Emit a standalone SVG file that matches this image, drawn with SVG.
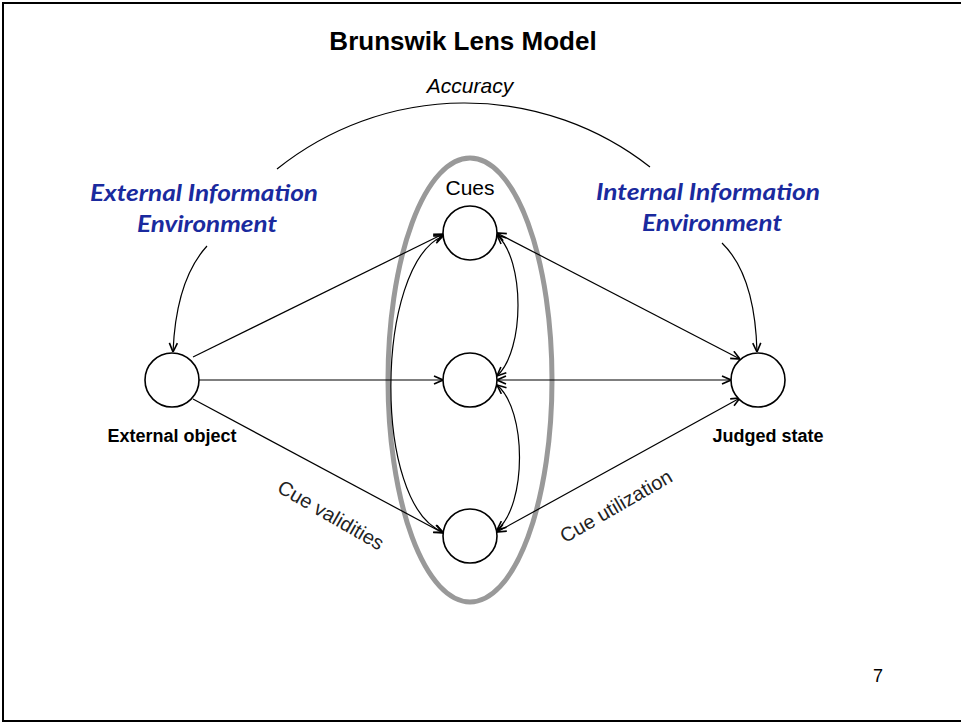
<svg xmlns="http://www.w3.org/2000/svg" width="961" height="723" viewBox="0 0 961 723">
<defs>
<style>
.node{fill:#fff;stroke:#000;stroke-width:1.6}
.con{fill:none;stroke:#000;stroke-width:1.2}
.lbl{font-family:"Liberation Sans",Arial,sans-serif;fill:#000}
.bold{font-weight:bold;font-size:18px}
.env{font-family:Lato,"Open Sans",sans-serif;font-weight:bold;font-style:italic;font-size:22px;fill:#1a2a9e}
.thin{font-family:"Liberation Sans",Arial,sans-serif;font-size:20px;fill:#222}
</style>
<marker id="arr" viewBox="0 0 10 10" refX="10" refY="5" markerWidth="10" markerHeight="10" markerUnits="userSpaceOnUse" orient="auto-start-reverse">
<path d="M1,1 L10,5 L1,9" fill="none" stroke="#000" stroke-width="1.6"/>
</marker>
</defs>
<rect x="0" y="0" width="961" height="723" fill="#fff"/>
<rect x="3" y="3" width="1000" height="718" fill="none" stroke="#000" stroke-width="2"/>

<text class="lbl" x="463" y="50" text-anchor="middle" font-size="26" font-weight="bold">Brunswik Lens Model</text>
<text class="lbl" x="470" y="93" text-anchor="middle" font-size="21" font-style="italic">Accuracy</text>

<g id="lens">
<ellipse cx="470" cy="380" rx="82" ry="222" fill="none" stroke="#999" stroke-width="5"/>
</g>

<g id="connectors">
<path class="con" d="M277,169 A300,300 0 0 1 650,167"/>
<path class="con" d="M207,246 Q176,280 173,352" marker-end="url(#arr)"/>
<path class="con" d="M722,243 Q755,275 757,352" marker-end="url(#arr)"/>
<path class="con" d="M193,357 L443,234" marker-end="url(#arr)"/>
<path class="con" d="M199,380 L443,380" marker-end="url(#arr)"/>
<path class="con" d="M193,399 L443,533" marker-end="url(#arr)"/>
<path class="con" d="M497,233 L740,359" marker-start="url(#arr)" marker-end="url(#arr)"/>
<path class="con" d="M497,380 L731,380" marker-start="url(#arr)" marker-end="url(#arr)"/>
<path class="con" d="M497,532 L740,398" marker-start="url(#arr)" marker-end="url(#arr)"/>
<path class="con" d="M443,236 C375,265 372,505 443,532" marker-start="url(#arr)" marker-end="url(#arr)"/>
<path class="con" d="M497,235 C525,260 525,350 497,376" marker-start="url(#arr)" marker-end="url(#arr)"/>
<path class="con" d="M497,385 C527,410 527,505 497,530" marker-start="url(#arr)" marker-end="url(#arr)"/>
</g>

<g id="external-object">
<circle class="node" cx="172" cy="380" r="27"/>
<text class="lbl bold" x="172" y="442" text-anchor="middle">External object</text>
</g>
<g id="cue-1">
<text class="lbl" x="470" y="195" text-anchor="middle" font-size="21">Cues</text>
<circle class="node" cx="470" cy="233" r="27"/>
</g>
<g id="cue-2">
<circle class="node" cx="470" cy="380" r="27"/>
</g>
<g id="cue-3">
<circle class="node" cx="470" cy="536" r="27"/>
</g>
<g id="judged-state">
<circle class="node" cx="758" cy="380" r="27"/>
<text class="lbl bold" x="768" y="442" text-anchor="middle">Judged state</text>
</g>

<g id="external-env">
<text class="env" x="204" y="201" text-anchor="middle" textLength="228" lengthAdjust="spacingAndGlyphs">External Information</text>
<text class="env" x="207" y="232" text-anchor="middle" textLength="140" lengthAdjust="spacingAndGlyphs">Environment</text>
</g>
<g id="internal-env">
<text class="env" x="708" y="200" text-anchor="middle" textLength="224" lengthAdjust="spacingAndGlyphs">Internal Information</text>
<text class="env" x="712" y="231" text-anchor="middle" textLength="140" lengthAdjust="spacingAndGlyphs">Environment</text>
</g>

<text class="thin" x="331" y="522" text-anchor="middle" transform="rotate(30 331 515)">Cue validities</text>
<text class="thin" x="616" y="513" text-anchor="middle" transform="rotate(-30 616 506)">Cue utilization</text>

<text class="lbl" x="878" y="682" text-anchor="middle" font-size="18">7</text>
</svg>
